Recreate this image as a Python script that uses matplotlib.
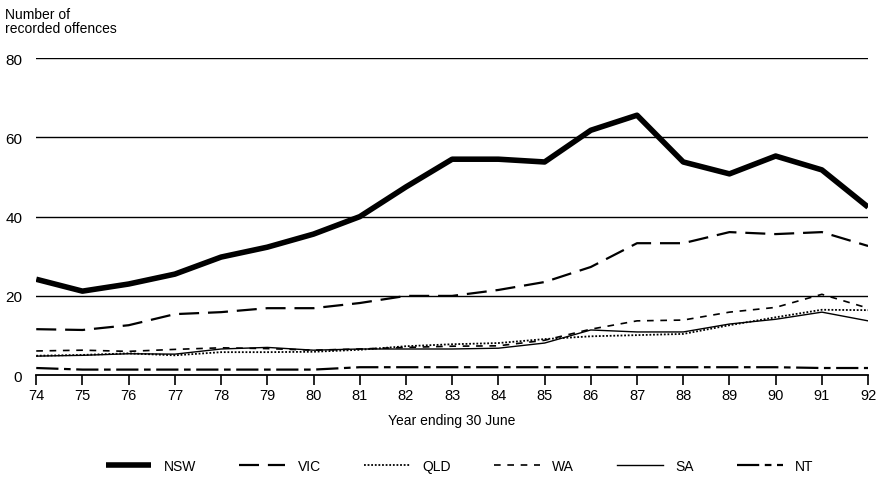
import matplotlib.pyplot as plt
import numpy as np

plt.rcParams['font.family'] = ['Liberation Sans Narrow', 'Liberation Sans', 'DejaVu Sans']

years = list(range(74, 93))
nsw = [24.2, 21.2, 23.0, 25.5, 29.8, 32.3, 35.6, 40.0, 47.5, 54.5, 54.5, 53.8, 61.8, 65.6, 53.8, 50.8, 55.3, 51.8, 42.4]
vic = [11.6, 11.4, 12.6, 15.4, 15.9, 16.9, 16.9, 18.2, 20.0, 20.0, 21.5, 23.5, 27.3, 33.3, 33.3, 36.1, 35.6, 36.1, 32.6]
qld = [4.9, 5.1, 5.5, 5.0, 5.8, 5.8, 5.9, 6.4, 7.3, 7.8, 8.1, 9.1, 9.8, 10.1, 10.4, 12.6, 14.6, 16.5, 16.4]
wa = [6.1, 6.3, 6.0, 6.5, 6.9, 6.7, 6.3, 6.6, 7.0, 7.3, 7.4, 8.8, 11.6, 13.7, 13.9, 15.9, 17.1, 20.4, 16.9]
sa = [4.8, 5.0, 5.4, 5.3, 6.6, 7.0, 6.3, 6.6, 6.6, 6.6, 6.8, 8.1, 11.4, 10.9, 10.9, 12.9, 14.1, 15.9, 13.7]
nt = [1.8, 1.4, 1.4, 1.4, 1.4, 1.4, 1.4, 2.0, 2.0, 2.0, 2.0, 2.0, 2.0, 2.0, 2.0, 2.0, 2.0, 1.8, 1.8]

fig = plt.figure(figsize=(8.84, 4.81), dpi=100)
ax = fig.add_axes([0.041, 0.218, 0.941, 0.659])

ax.plot(years, nsw, color='black', lw=4.0, label='NSW', solid_capstyle='butt')
ax.plot(years, vic, color='black', lw=1.6, dashes=(9, 4), label='VIC')
ax.plot(years, qld, color='black', lw=1.3, dashes=(1, 1), label='QLD')
ax.plot(years, wa, color='black', lw=1.2, dashes=(4, 4), label='WA')
ax.plot(years, sa, color='black', lw=1.0, label='SA')
ax.plot(years, nt, color='black', lw=1.6, dashes=(10, 2.5, 3, 2.5), label='NT')

ax.set_xlim(74, 92)
ax.set_ylim(0, 80)
ax.set_yticks([0, 20, 40, 60, 80])
for v in [20, 40, 60, 80]:
    ax.axhline(v, color='black', lw=1.0)
ax.set_xticks(years)
ax.set_xticklabels([str(y) for y in years], fontsize=10.5)
ax.tick_params(axis='x', direction='out', length=7, width=1.2, pad=2)
ax.tick_params(axis='y', length=0, pad=10, labelsize=11)
for s in ['top', 'right', 'left']:
    ax.spines[s].set_visible(False)
ax.spines['bottom'].set_linewidth(1.3)
ax.set_xlabel('Year ending 30 June', fontsize=10, labelpad=8)

fig.text(0.006, 0.983, 'Number of\nrecorded offences', ha='left', va='top', fontsize=10, linespacing=1.0)

fig.legend(loc='lower center', bbox_to_anchor=(0.52, -0.012), ncol=6, frameon=False,
           handlelength=3.3, columnspacing=3.1, fontsize=10, handletextpad=0.9)

fig.savefig('out.png', dpi=100)
